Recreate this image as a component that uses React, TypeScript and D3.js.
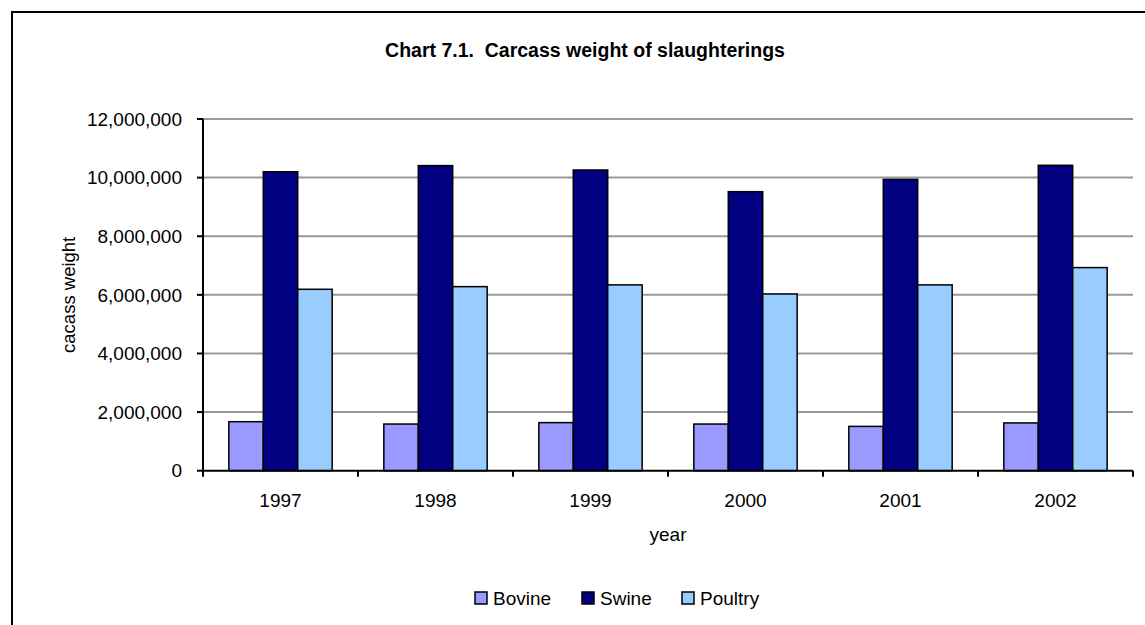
import React from "react";
import * as d3 from "d3";

const years = ["1997", "1998", "1999", "2000", "2001", "2002"];
const seriesNames = ["Bovine", "Swine", "Poultry"];
const bovine = [1672000, 1592000, 1640000, 1592000, 1512000, 1630000];
const swine = [10200000, 10410000, 10260000, 9520000, 9940000, 10420000];
const poultry = [6190000, 6280000, 6340000, 6030000, 6340000, 6930000];
const yTicks = [0, 2000000, 4000000, 6000000, 8000000, 10000000, 12000000];
const colors = ["#9999FF", "#000080", "#99CCFF"];

const W = 1145;
const H = 625;
const left = 203;
const right = 1133;
const top = 119;
const bottom = 470.7;
const font = "'Liberation Sans', Arial, sans-serif";

export default function App() {
  const values = [bovine, swine, poultry];
  const x = d3.scaleBand<string>().domain(years).range([left, right]).paddingInner(0).paddingOuter(0);
  const y = d3.scaleLinear().domain([0, 12000000]).range([bottom, top]);
  const bw = x.bandwidth();
  const barW = bw / 4.5;
  const fmt = d3.format(",");
  const boundaries = years.map((yr) => x(yr) as number).concat([right]);

  return (
    <svg width={W} height={H} style={{ position: "absolute", left: 0, top: 0, background: "#fff" }} fontFamily={font}>
      <rect x={0} y={0} width={W} height={H} fill="#fff" />
      {/* frame */}
      <line x1={11} y1={12} x2={W} y2={12} stroke="#000" strokeWidth={2} />
      <line x1={12} y1={11} x2={12} y2={H} stroke="#000" strokeWidth={2} />
      <text x={585} y={57} textAnchor="middle" fontSize={19.5} fontWeight="bold" style={{ whiteSpace: "pre" }}>
        {"Chart 7.1.  Carcass weight of slaughterings"}
      </text>
      {/* gridlines */}
      {yTicks.filter((t) => t > 0).map((t) => (
        <line key={t} x1={left} x2={right} y1={y(t)} y2={y(t)} stroke="#999" strokeWidth={2} />
      ))}
      {/* bars */}
      {years.map((yr, i) =>
        values.map((vals, s) => {
          const bx = (x(yr) as number) + barW * 0.75 + s * barW;
          return (
            <rect
              key={yr + s}
              x={bx}
              y={y(vals[i])}
              width={barW}
              height={bottom - y(vals[i])}
              fill={colors[s]}
              stroke="#000"
              strokeWidth={1.5}
            />
          );
        })
      )}
      {/* y axis */}
      <line x1={left} x2={left} y1={top} y2={bottom} stroke="#000" strokeWidth={2} />
      {yTicks.map((t) => (
        <g key={t}>
          <line x1={left - 6} x2={left} y1={y(t)} y2={y(t)} stroke="#000" strokeWidth={2} />
          <text x={182} y={y(t)} dy="0.35em" textAnchor="end" fontSize={19}>
            {fmt(t)}
          </text>
        </g>
      ))}
      {/* x axis */}
      <line x1={left} x2={right} y1={bottom} y2={bottom} stroke="#000" strokeWidth={2} />
      {boundaries.map((b, i) => (
        <line key={i} x1={b} x2={b} y1={bottom} y2={bottom + 6} stroke="#000" strokeWidth={2} />
      ))}
      {years.map((yr) => (
        <text key={yr} x={(x(yr) as number) + bw / 2} y={bottom + 36} textAnchor="middle" fontSize={19}>
          {yr}
        </text>
      ))}
      <text x={(left + right) / 2} y={541} textAnchor="middle" fontSize={19}>
        year
      </text>
      <text
        transform={`translate(75, ${(top + bottom) / 2}) rotate(-90)`}
        textAnchor="middle"
        fontSize={18.5}
      >
        cacass weight
      </text>
      {/* legend */}
      {seriesNames.map((n, s) => {
        const lx = [475, 582, 682][s];
        return (
          <g key={n}>
            <rect x={lx} y={592} width={12} height={12} fill={colors[s]} stroke="#000" strokeWidth={1.5} />
            <text x={lx + 18} y={605} fontSize={19}>
              {n}
            </text>
          </g>
        );
      })}
    </svg>
  );
}
